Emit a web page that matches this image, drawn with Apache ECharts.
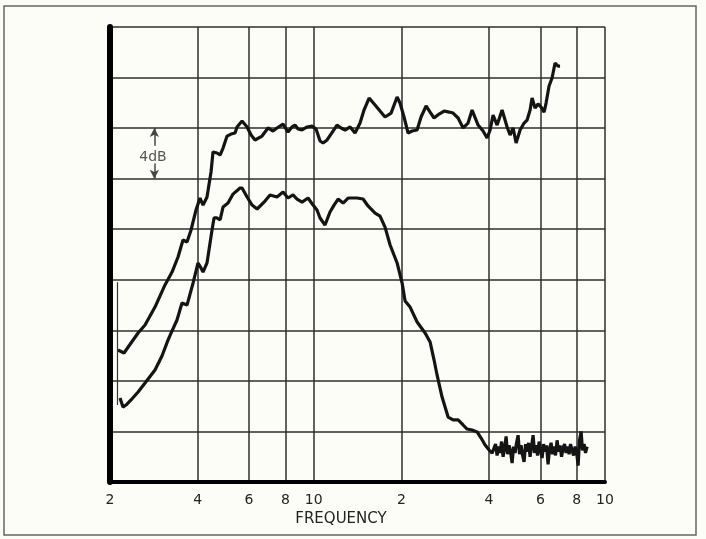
<!DOCTYPE html>
<html>
<head>
<meta charset="utf-8">
<script src="https://cdn.jsdelivr.net/npm/echarts@6/dist/echarts.min.js"></script>
<style>
  html, body { margin: 0; padding: 0; background: #fdfdf8; }
  #chart { width: 706px; height: 539px; }
</style>
</head>
<body>
<div id="chart"></div>
<script>
// grid ticks on the log frequency axis
const freqTicks = [2, 4, 6, 8, 10, 20, 40, 60, 80, 100]

// upper trace
const freqUpper = [2.131, 2.234, 2.361, 2.497, 2.638, 2.854, 3.089, 3.266, 3.424, 3.561,
  3.676, 3.795, 3.947, 4.074, 4.172, 4.305, 4.444, 4.514, 4.661, 4.773,
  4.888, 5.044, 5.205, 5.373, 5.458, 5.679, 5.909, 6.099, 6.292, 6.650,
  6.973, 7.254, 7.486, 7.853, 8.167, 8.429, 8.631, 8.838, 9.124, 9.491,
  9.874, 10.19, 10.52, 10.77, 11.12, 11.47, 12.03, 12.42, 12.82, 13.34,
  13.87, 14.43, 14.89, 15.50, 16.25, 16.90, 17.58, 18.44, 19.34, 19.80,
  20.43, 21.09, 21.77, 22.65, 23.37, 24.32, 25.10, 25.90, 26.95, 28.04,
  29.17, 30.10, 31.32, 32.58, 33.88, 34.98, 36.68, 38.15, 39.38, 40.33,
  41.29, 42.63, 44.34, 46.13, 47.23, 48.37, 49.53, 51.12, 52.76, 54.03,
  55.32, 56.21, 57.54, 58.93, 60.34, 61.79, 62.77, 64.27, 65.81, 67.39,
  69.01, 70.10]
const dbUpper = [10.44, 10.21, 11.00, 11.79, 12.42, 13.84, 15.59, 16.61, 17.80, 19.15,
  18.99, 19.94, 21.52, 22.47, 21.91, 22.55, 24.53, 26.11, 26.03, 25.87,
  26.42, 27.37, 27.53, 27.61, 28.09, 28.56, 28.09, 27.45, 27.06, 27.37,
  28.01, 27.77, 28.01, 28.32, 27.69, 28.09, 28.24, 27.93, 27.85, 28.09,
  28.16, 27.93, 26.98, 26.82, 27.06, 27.53, 28.24, 28.01, 27.85, 28.09,
  27.61, 28.40, 29.43, 30.38, 29.83, 29.35, 28.88, 29.19, 30.46, 29.97,
  28.88, 27.61, 27.77, 27.85, 28.88, 29.75, 29.27, 28.80, 29.11, 29.35,
  29.27, 29.19, 28.80, 28.01, 28.40, 29.43, 28.24, 27.77, 27.22, 27.85,
  29.03, 28.24, 29.43, 28.09, 27.45, 28.01, 26.82, 27.85, 28.40, 28.64,
  29.43, 30.38, 29.59, 29.91, 29.67, 29.27, 29.98, 31.33, 31.96, 33.15,
  32.91, 32.91]

// lower trace (roll-off, then noise floor from ~41)
const freqLower = [2.165, 2.216, 2.270, 2.361, 2.497, 2.638, 2.854, 3.016, 3.163, 3.266,
  3.396, 3.533, 3.676, 3.855, 4.010, 4.106, 4.172, 4.305, 4.479, 4.551,
  4.661, 4.773, 4.888, 5.083, 5.289, 5.589, 5.679, 5.909, 6.147, 6.395,
  6.809, 7.084, 7.486, 7.853, 8.167, 8.497, 8.770, 9.124, 9.568, 9.952,
  10.27, 10.52, 10.94, 11.38, 11.75, 12.13, 12.62, 13.13, 14.09, 14.78,
  15.37, 16.25, 16.90, 17.58, 18.30, 19.34, 20.12, 20.60, 21.43, 22.65,
  24.13, 25.10, 25.90, 26.52, 27.59, 28.94, 30.10, 31.32, 32.58, 33.62,
  34.98, 36.39, 37.56, 38.77, 40.02, 40.98,
  41.63, 42.11, 42.63, 43.12, 43.65, 44.16, 44.70, 45.22, 45.77, 46.30,
  46.87, 47.41, 47.99, 48.55, 49.14, 49.71, 50.32, 50.90, 51.52, 52.13,
  52.76, 53.38, 54.03, 54.66, 55.32, 55.96, 56.65, 57.31, 58.01, 58.68,
  59.40, 60.09, 60.82, 61.53, 62.28, 63.00, 63.77, 64.51, 65.31, 66.06,
  66.88, 67.64, 68.48, 69.27, 70.10, 70.93, 71.83, 72.63, 73.54, 74.37,
  75.30, 76.15, 77.11, 77.98, 78.97, 79.85, 80.86, 81.76, 82.79, 83.72,
  84.79, 85.73, 86.82]
const dbLower = [6.65, 5.93, 6.09, 6.49, 7.12, 7.83, 8.86, 9.97, 11.23, 11.95,
  12.82, 14.16, 14.00, 15.74, 17.33, 16.93, 16.61, 17.33, 19.94, 20.89,
  20.89, 20.73, 21.76, 22.07, 22.78, 23.26, 23.26, 22.55, 21.91, 21.60,
  22.23, 22.71, 22.55, 22.94, 22.47, 22.71, 22.39, 22.15, 22.47, 21.91,
  21.52, 20.89, 20.33, 21.36, 21.91, 22.39, 22.07, 22.47, 22.47, 22.39,
  21.84, 21.28, 21.04, 20.17, 18.75, 17.33, 15.74, 14.32, 13.84, 12.66,
  11.79, 11.08, 9.65, 8.47, 6.72, 5.14, 4.91, 4.91, 4.51, 4.19,
  4.11, 3.96, 3.48, 2.93, 2.53, 2.29,
  2.4, 3.0, 2.1, 2.8, 2.3, 3.2, 2.0, 2.7, 3.6, 2.2,
  2.9, 2.4, 1.5, 2.8, 2.3, 3.1, 3.7, 2.2, 2.9, 2.1,
  1.6, 3.0, 2.4, 3.1, 2.0, 2.8, 3.7, 2.3, 2.9, 2.1,
  3.2, 2.5, 1.9, 3.0, 2.4, 2.9, 1.4, 2.6, 3.1, 2.2,
  2.8, 2.1, 3.3, 2.4, 2.9, 2.0, 2.7, 3.0, 2.3, 2.8,
  2.2, 3.0, 2.5, 2.1, 2.8, 2.4, 1.3, 3.3, 4.0, 2.5,
  3.0, 2.3, 2.8]

// pen drop at the start of the sweep
const freqPen = [2.122, 2.122]
const dbPen = [15.8, 6.1]

const pairs = (xs, ys) => xs.map((x, i) => [x, ys[i]])

const chart = echarts.init(document.getElementById('chart'))
const traceColor = '#141414'
const gridColor = '#2e2e2e'

chart.setOption({
  backgroundColor: '#fdfdf8',
  animation: false,
  grid: { left: 110, right: 101, top: 27, bottom: 57 },
  xAxis: {
    type: 'log',
    logBase: 10,
    min: 2,
    max: 100,
    axisLine: { show: true, onZero: false, lineStyle: { color: '#000', width: 4 } },
    axisTick: { show: false, customValues: freqTicks },
    axisLabel: {
      customValues: freqTicks,
      formatter: v => (v > 10 ? v / 10 : v) + '',
      color: '#222',
      fontFamily: 'DejaVu Sans',
      fontSize: 14,
      margin: 11
    },
    splitLine: { show: true, lineStyle: { color: gridColor, width: 1.5 } }
  },
  yAxis: {
    type: 'value',
    min: 0,
    max: 36,
    interval: 4,
    axisLine: { show: true, lineStyle: { color: '#000', width: 6 } },
    axisTick: { show: false },
    axisLabel: { show: false },
    splitLine: { show: true, lineStyle: { color: gridColor, width: 1.5 } }
  },
  series: [
    {
      type: 'line',
      data: pairs(freqUpper, dbUpper),
      symbol: 'none',
      lineStyle: { color: traceColor, width: 3.2 },
      markLine: {
        silent: true,
        symbol: ['none', 'arrow'],
        symbolSize: [7, 9],
        lineStyle: { color: '#444', width: 1.5, type: 'solid' },
        label: { show: false },
        data: [
          [{ coord: [2.84, 26.6] }, { coord: [2.84, 28] }],
          [{ coord: [2.84, 25.2] }, { coord: [2.84, 24] }]
        ]
      }
    },
    {
      type: 'line',
      data: pairs(freqLower, dbLower),
      symbol: 'none',
      lineStyle: { color: traceColor, width: 3.2 }
    },
    {
      type: 'line',
      data: pairs(freqPen, dbPen),
      symbol: 'none',
      lineStyle: { color: '#333', width: 1.2 }
    }
  ],
  graphic: [
    {
      type: 'rect',
      shape: { x: 4, y: 6, width: 692, height: 529 },
      style: { fill: 'none', stroke: '#666', lineWidth: 1.5 },
      silent: true
    },
    {
      type: 'text',
      x: 153, y: 157,
      style: { text: '4dB', fill: '#555', font: '14px "DejaVu Sans"', align: 'center', verticalAlign: 'middle' }
    },
    {
      type: 'text',
      x: 341, y: 519,
      style: { text: 'FREQUENCY', fill: '#222', font: '15px "DejaVu Sans"', align: 'center', verticalAlign: 'middle' }
    }
  ]
})
</script>
</body>
</html>
